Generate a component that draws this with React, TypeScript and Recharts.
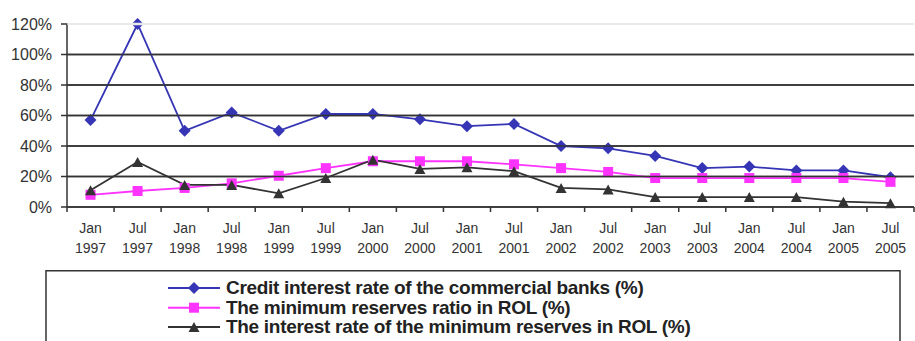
import { LineChart, Line, XAxis, YAxis, CartesianGrid } from "recharts";

// half-year periods on the category axis
const periods = [
  "Jan 1997", "Jul 1997", "Jan 1998", "Jul 1998", "Jan 1999", "Jul 1999",
  "Jan 2000", "Jul 2000", "Jan 2001", "Jul 2001", "Jan 2002", "Jul 2002",
  "Jan 2003", "Jul 2003", "Jan 2004", "Jul 2004", "Jan 2005", "Jul 2005",
];

// rates in percent
const creditRate = [57, 120, 50, 62, 50, 61, 61, 57.5, 53, 54.5, 40, 38.5, 33.5, 25.5, 26.5, 24, 24, 19.5];
const reservesRatio = [8, 10.5, 12.5, 15.5, 20.5, 25.5, 30, 30, 30, 28, 25.5, 23, 19, 19, 19, 19, 19, 16.5];
const reservesInterest = [11, 29.5, 14.5, 14.5, 9, 19, 31, 25, 26, 23.5, 12.5, 11.5, 6.5, 6.5, 6.5, 6.5, 3.5, 2.5];

const yTicks = [0, 20, 40, 60, 80, 100, 120];

const seriesNames = [
  "Credit interest rate of the commercial banks (%)",
  "The minimum reserves ratio in ROL (%)",
  "The interest rate of the minimum reserves in ROL (%)",
];

const data = periods.map((period, i) => ({
  period,
  credit: creditRate[i],
  ratio: reservesRatio[i],
  interest: reservesInterest[i],
}));

const BLUE = "#3535B5";
const PINK = "#FF33FF";
const DARK = "#333333";
const FONT = "'Liberation Sans', Arial, sans-serif";

const W = 915;
const CHART_H = 270;
const LEGEND_H = 71;
const PLOT_LEFT = 67;
const PLOT_RIGHT = 914;
const band = (PLOT_RIGHT - PLOT_LEFT) / periods.length;

type Shape = "diamond" | "square" | "triangle";

const Marker = ({ shape, cx, cy, fill }: { shape: Shape; cx: number; cy: number; fill: string }) => {
  if (shape === "diamond") {
    const r = 6;
    return <polygon points={`${cx},${cy - r} ${cx + r},${cy} ${cx},${cy + r} ${cx - r},${cy}`} fill={fill} />;
  }
  if (shape === "square") {
    const s = 5;
    return <rect x={cx - s} y={cy - s} width={s * 2} height={s * 2} fill={fill} />;
  }
  const w = 5.5;
  const h = 5;
  return <polygon points={`${cx},${cy - h} ${cx + w},${cy + h} ${cx - w},${cy + h}`} fill={fill} />;
};

const series: { key: string; color: string; shape: Shape; name: string }[] = [
  { key: "credit", color: BLUE, shape: "diamond", name: seriesNames[0] },
  { key: "ratio", color: PINK, shape: "square", name: seriesNames[1] },
  { key: "interest", color: DARK, shape: "triangle", name: seriesNames[2] },
];

const PeriodTick = (props: any) => {
  const { x, y, payload, index } = props;
  const [month, year] = String(payload.value).split(" ");
  return (
    <g>
      <line x1={x - band / 2} x2={x - band / 2} y1={y} y2={y + 5} stroke={DARK} strokeWidth={1.5} />
      {index === periods.length - 1 && (
        <line x1={x + band / 2} x2={x + band / 2} y1={y} y2={y + 5} stroke={DARK} strokeWidth={1.5} />
      )}
      <text textAnchor="middle" fill={DARK} fontSize={14} fontFamily={FONT}>
        <tspan x={x} y={y + 26}>{month}</tspan>
        <tspan x={x} y={y + 45.5}>{year}</tspan>
      </text>
    </g>
  );
};

// percent label plus the horizontal gridline running across the plot
const PercentTick = (props: any) => {
  const { x, y, payload } = props;
  const v = Number(payload.value);
  const top = v === 120;
  return (
    <g>
      {top && <line x1={PLOT_LEFT + 1} x2={PLOT_RIGHT} y1={y} y2={y} stroke="#fff" strokeWidth={2.5} />}
      {v > 0 && (
        <line
          x1={PLOT_LEFT}
          x2={PLOT_RIGHT}
          y1={y}
          y2={y}
          stroke={top ? "#e2e2e2" : DARK}
          strokeWidth={1.5}
        />
      )}
      <text x={x} y={y} dy="0.355em" textAnchor="end" fill={DARK} fontSize={16} fontFamily={FONT}>
        {`${v}%`}
      </text>
    </g>
  );
};

const LegendBox = () => {
  const rows = [18, 37.7, 57];
  return (
    <svg width={W} height={LEGEND_H} style={{ display: "block" }}>
      <rect x={46} y={0.75} width={900 - 46} height={120} fill="none" stroke={DARK} strokeWidth={1.5} />
      {series.map((s, i) => (
        <g key={s.key}>
          <line x1={168} x2={220} y1={rows[i]} y2={rows[i]} stroke={s.color} strokeWidth={2} />
          <Marker shape={s.shape} cx={194} cy={rows[i]} fill={s.color} />
          <text
            x={226}
            y={rows[i] + 5.8}
            fontFamily={FONT}
            fontWeight="bold"
            fontSize={19}
            letterSpacing={-0.3}
            fill="#222"
          >
            {s.name}
          </text>
        </g>
      ))}
    </svg>
  );
};

export default function App() {
  return (
    <div style={{ position: "absolute", left: 0, top: 0 }}>
      <LineChart
        width={W}
        height={CHART_H}
        data={data}
        margin={{ top: 24, right: W - PLOT_RIGHT, bottom: 3, left: 0 }}
      >
        <CartesianGrid vertical={false} stroke={DARK} strokeWidth={1.5} />
        <YAxis
          width={PLOT_LEFT}
          domain={[0, 120]}
          ticks={yTicks}
          interval={0}
          axisLine={{ stroke: DARK, strokeWidth: 1.5 }}
          tickLine={{ stroke: DARK, strokeWidth: 1.5 }}
          tickSize={6}
          tickMargin={9}
          tick={<PercentTick />}
        />
        <XAxis
          dataKey="period"
          scale="band"
          interval={0}
          height={60}
          tickLine={false}
          tickSize={0}
          tickMargin={0}
          axisLine={{ stroke: DARK, strokeWidth: 1.5 }}
          tick={<PeriodTick />}
        />
        {series.map((s) => (
          <Line
            key={s.key}
            dataKey={s.key}
            stroke={s.color}
            strokeWidth={1.8}
            isAnimationActive={false}
            activeDot={false}
            dot={(p: any) => (
              <Marker key={`${s.key}-${p.index}`} shape={s.shape} cx={p.cx} cy={p.cy} fill={s.color} />
            )}
          />
        ))}
      </LineChart>
      <LegendBox />
    </div>
  );
}
